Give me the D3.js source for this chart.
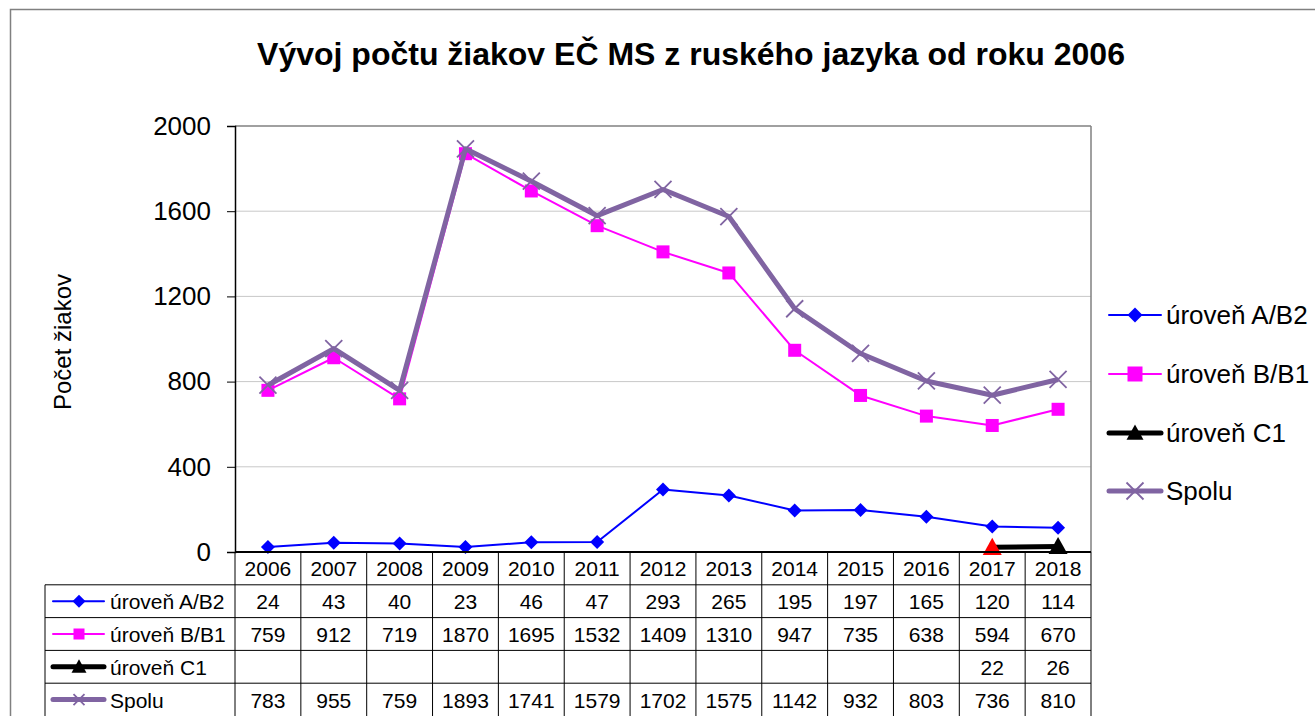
<!DOCTYPE html>
<html>
<head>
<meta charset="utf-8">
<script src="https://cdn.jsdelivr.net/npm/d3@7"></script>
<style>
body { margin: 0; background: #fff; }
text { font-family: Arial, "Liberation Sans", sans-serif; }
</style>
</head>
<body>
<script>
// data
var years = ["2006","2007","2008","2009","2010","2011","2012","2013","2014","2015","2016","2017","2018"];
var urovenAB2 = [24, 43, 40, 23, 46, 47, 293, 265, 195, 197, 165, 120, 114];
var urovenBB1 = [759, 912, 719, 1870, 1695, 1532, 1409, 1310, 947, 735, 638, 594, 670];
var urovenC1 = [null, null, null, null, null, null, null, null, null, null, null, 22, 26];
var spolu = [783, 955, 759, 1893, 1741, 1579, 1702, 1575, 1142, 932, 803, 736, 810];
var yTicks = [0, 400, 800, 1200, 1600, 2000];

var series = [
  {name: "úroveň A/B2", values: urovenAB2, color: "#0000FF", width: 2, marker: "diamond"},
  {name: "úroveň B/B1", values: urovenBB1, color: "#FF00FF", width: 2, marker: "square"},
  {name: "úroveň C1", values: urovenC1, color: "#000000", width: 5, marker: "triangle"},
  {name: "Spolu", values: spolu, color: "#8064A2", width: 5, marker: "cross"}
];

var W = 1315, H = 716;
var plot = {left: 235, right: 1091, top: 126, bottom: 552};

var svg = d3.select("body").append("svg")
  .attr("width", W).attr("height", H);

// chart border
svg.append("rect")
  .attr("x", 10.5).attr("y", 9.5)
  .attr("width", W + 20).attr("height", H + 20)
  .attr("fill", "none").attr("stroke", "#808080").attr("stroke-width", 1.5);

svg.append("text")
  .attr("x", 691).attr("y", 65)
  .attr("text-anchor", "middle")
  .style("font-size", "32px").style("font-weight", "bold")
  .text("Vývoj počtu žiakov EČ MS z ruského jazyka od roku 2006");

var x = d3.scaleBand().domain(years).range([plot.left, plot.right]);
var cx = function(i) { return x(years[i]) + x.bandwidth() / 2; };
var y = d3.scaleLinear().domain([0, 2000]).range([plot.bottom, plot.top]);

// gridlines
svg.append("g").selectAll("line")
  .data(yTicks.filter(function(d) { return d > 0; }))
  .enter().append("line")
  .attr("x1", plot.left).attr("x2", plot.right)
  .attr("y1", function(d) { return y(d); }).attr("y2", function(d) { return y(d); })
  .attr("stroke", function(d) { return d === 2000 ? "#808080" : "#c8c8c8"; })
  .attr("stroke-width", function(d) { return d === 2000 ? 1.5 : 1; });

// right border of plot
svg.append("line")
  .attr("x1", plot.right).attr("x2", plot.right)
  .attr("y1", plot.top).attr("y2", plot.bottom)
  .attr("stroke", "#808080").attr("stroke-width", 1.5);

// y axis
var yAxis = svg.append("g")
  .attr("transform", "translate(" + plot.left + ",0)")
  .call(d3.axisLeft(y).tickValues(yTicks).tickFormat(d3.format("d")).tickSize(8).tickPadding(16));
yAxis.select(".domain").attr("stroke", "#000").attr("stroke-width", 1.5);
yAxis.selectAll(".tick line").attr("stroke", "#000");
yAxis.selectAll(".tick text").style("font-size", "26px").attr("fill", "#000")
  .style("font-family", "Arial, 'Liberation Sans', sans-serif");

svg.append("text")
  .attr("transform", "translate(71," + 342 + ") rotate(-90)")
  .attr("text-anchor", "middle")
  .style("font-size", "24px")
  .text("Počet žiakov");

function drawMarker(g, type, color, px, py, s) {
  var h = s / 2;
  if (type === "diamond") {
    g.append("path").attr("d", "M" + px + "," + (py - h) + "L" + (px + h) + "," + py +
      "L" + px + "," + (py + h) + "L" + (px - h) + "," + py + "Z")
      .attr("fill", color);
  } else if (type === "square") {
    g.append("rect").attr("x", px - h).attr("y", py - h)
      .attr("width", s).attr("height", s).attr("fill", color);
  } else if (type === "triangle") {
    g.append("path").attr("d", "M" + px + "," + (py - h) + "L" + (px + h) + "," + (py + h * 0.8) +
      "L" + (px - h) + "," + (py + h * 0.8) + "Z")
      .attr("fill", color);
  } else if (type === "cross") {
    g.append("path").attr("d", "M" + (px - h) + "," + (py - h) + "L" + (px + h) + "," + (py + h) +
      "M" + (px - h) + "," + (py + h) + "L" + (px + h) + "," + (py - h))
      .attr("stroke", color).attr("stroke-width", 1.8).attr("fill", "none");
  }
}

var line = d3.line()
  .defined(function(d) { return d != null; })
  .x(function(d, i) { return cx(i); })
  .y(function(d) { return y(d); });

var plotSize = {diamond: 14, square: 13, triangle: 19, cross: 17};

// draw series: A/B2, B/B1, Spolu, then C1 on top
var order = [0, 1, 3, 2];
order.forEach(function(k) {
  var s = series[k];
  var g = svg.append("g");
  g.append("path").datum(s.values)
    .attr("d", line)
    .attr("fill", "none").attr("stroke", s.color)
    .attr("stroke-width", s.width).attr("stroke-linejoin", "round");
  s.values.forEach(function(v, i) {
    if (v == null) return;
    var col = s.color;
    var firstC1 = s.marker === "triangle" && urovenC1.slice(0, i).every(function(d) { return d == null; });
    if (firstC1) col = "#FF0000";
    drawMarker(g, s.marker, col, cx(i), y(v), plotSize[s.marker]);
  });
});

// x axis line
svg.append("line")
  .attr("x1", plot.left).attr("x2", plot.right)
  .attr("y1", plot.bottom).attr("y2", plot.bottom)
  .attr("stroke", "#000").attr("stroke-width", 2);

// data table
var rowH = 32.8;
var tableLeft = 45;
var tb = svg.append("g");
var tableBottom = plot.bottom + rowH * 5;
years.concat(["end"]).forEach(function(yr, i) {
  var xx = i < years.length ? x(yr) : plot.right;
  tb.append("line")
    .attr("x1", xx).attr("x2", xx)
    .attr("y1", plot.bottom).attr("y2", tableBottom)
    .attr("stroke", "#000").attr("stroke-width", 1);
});
tb.append("line")
  .attr("x1", tableLeft).attr("x2", tableLeft)
  .attr("y1", plot.bottom + rowH).attr("y2", tableBottom)
  .attr("stroke", "#000").attr("stroke-width", 1);
for (var r = 1; r <= 4; r++) {
  tb.append("line")
    .attr("x1", tableLeft).attr("x2", plot.right)
    .attr("y1", plot.bottom + rowH * r).attr("y2", plot.bottom + rowH * r)
    .attr("stroke", "#000").attr("stroke-width", 1);
}
tb.selectAll("text.yr").data(years).enter().append("text")
  .attr("x", function(d, i) { return cx(i); })
  .attr("y", plot.bottom + rowH / 2 + 8)
  .attr("text-anchor", "middle").style("font-size", "21px")
  .text(function(d) { return d; });

var tableSize = {diamond: 13, square: 11, triangle: 15, cross: 11};
series.forEach(function(s, k) {
  var ry = plot.bottom + rowH * (k + 1);
  var mid = ry + rowH / 2;
  var lg = tb.append("g");
  lg.append("line").attr("x1", 53).attr("x2", 104).attr("y1", mid).attr("y2", mid)
    .attr("stroke", s.color).attr("stroke-width", s.width).attr("stroke-linecap", "round");
  drawMarker(lg, s.marker, s.color, 79, mid, tableSize[s.marker]);
  lg.append("text").attr("x", 110).attr("y", mid + 8)
    .style("font-size", "21px").text(s.name);
  tb.append("g").selectAll("text").data(s.values).enter().append("text")
    .attr("x", function(d, i) { return cx(i); })
    .attr("y", mid + 8)
    .attr("text-anchor", "middle").style("font-size", "21px")
    .text(function(d) { return d == null ? "" : d; });
});

// legend
var legY = [315, 374, 433, 491];
var legSize = {diamond: 15, square: 15, triangle: 17, cross: 17};
series.forEach(function(s, k) {
  var lg = svg.append("g");
  var ly = legY[k];
  lg.append("line").attr("x1", 1109).attr("x2", 1161).attr("y1", ly).attr("y2", ly)
    .attr("stroke", s.color).attr("stroke-width", s.width).attr("stroke-linecap", "round");
  drawMarker(lg, s.marker, s.color, 1135, ly, legSize[s.marker]);
  lg.append("text").attr("x", 1166).attr("y", ly + 9)
    .style("font-size", "26px").text(s.name);
});
</script>
</body>
</html>
